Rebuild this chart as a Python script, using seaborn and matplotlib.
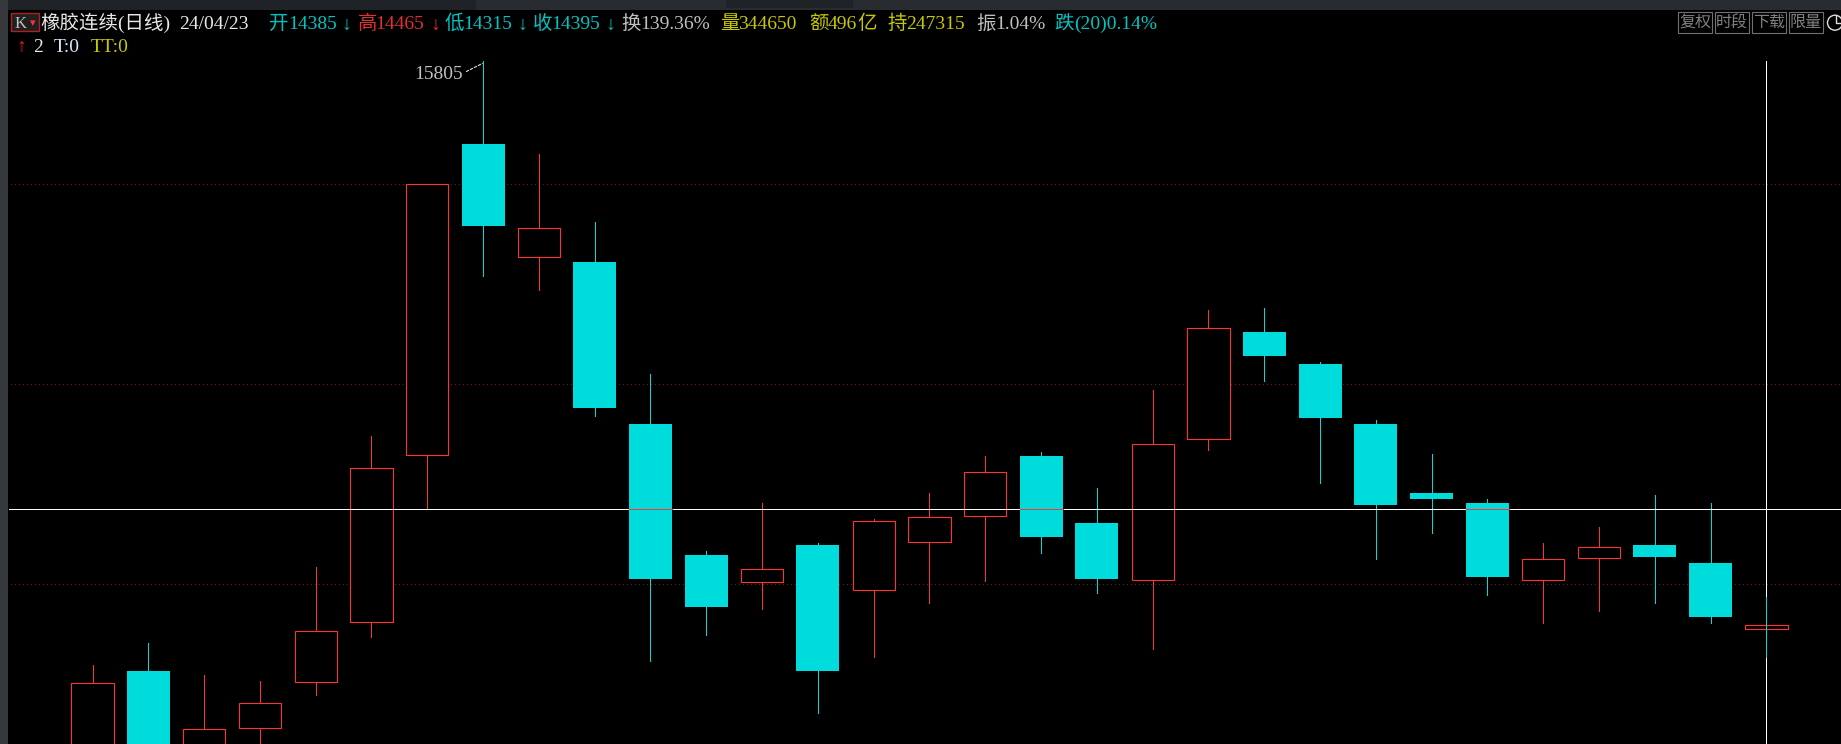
import numpy as np
import pandas as pd
import matplotlib
matplotlib.use('Agg')
import matplotlib.pyplot as plt
import matplotlib.patches as mpatches
import matplotlib.transforms as mtransforms
import seaborn as sns

# daily candles (first three run below the window)
opens = [14050, 14280, 14060, 14137, 14252, 14402, 14819, 15597, 15314, 15302, 14897,
         14570, 14502, 14595, 14482, 14602, 14667, 14817, 14650, 14507, 14859, 15127,
         15047, 14897, 14725, 14700, 14507, 14562, 14595, 14550, 14385]
closes = [14249, 14060, 14134, 14199, 14379, 14787, 15497, 15393, 15387, 14938, 14510,
          14441, 14534, 14281, 14654, 14664, 14777, 14616, 14511, 14847, 15137, 15068,
          14913, 14696, 14711, 14516, 14559, 14589, 14566, 14416, 14395]
highs = [14295, 14350, 14270, 14255, 14540, 14867, 15497, 15805, 15572, 15402, 15022,
         14580, 14700, 14600, 14660, 14725, 14817, 14827, 14737, 14982, 15182, 15187,
         15052, 14907, 14822, 14710, 14600, 14640, 14720, 14700, 14465]
lows = [14030, 14040, 14040, 14090, 14221, 14366, 14684, 15268, 15233, 14918, 14306,
        14371, 14436, 14176, 14316, 14451, 14506, 14576, 14476, 14336, 14833, 15004,
        14749, 14561, 14626, 14471, 14401, 14431, 14451, 14401, 14315]
grid_prices = [14497, 14997, 15497]
cross_price = 14685
peak_label = '15805'

RED = '#ff3232'
CYAN = '#00dcdc'
TEAL = '#00c4c4'
YELLOW = '#c8c800'
GRAY = '#c0c0c0'
W, H = 1841, 744

sns.set_theme(style='dark', rc={'figure.facecolor': 'black', 'axes.facecolor': 'black'})
plt.rcParams['font.family'] = ['Liberation Serif', 'Noto Sans CJK SC', 'DejaVu Sans']

df = pd.DataFrame({'i': np.arange(len(opens)), 'open': opens, 'close': closes,
                   'high': highs, 'low': lows})
df['up'] = df['close'] >= df['open']
df['bottom'] = df[['open', 'close']].min(axis=1)
df['height'] = (df['close'] - df['open']).abs()

fig = plt.figure(figsize=(W / 100, H / 100), dpi=100)
ax = fig.add_axes([0, 0, 1, 1])

# dotted price levels
ax.hlines(grid_prices, -2, 40, color='#7a1010', lw=0.72, linestyles=[(0, (1, 3))],
          antialiased=False, zorder=1)

# wicks, the last one goes over the crosshair
body = df.iloc[:-1]
ax.vlines(body.loc[body['up'], 'i'], body.loc[body['up'], 'low'], body.loc[body['up'], 'high'],
          color=RED, lw=0.72, antialiased=False, zorder=2)
ax.vlines(body.loc[~body['up'], 'i'], body.loc[~body['up'], 'low'], body.loc[~body['up'], 'high'],
          color=CYAN, lw=0.72, antialiased=False, zorder=2)

up = df[df['up']]
down = df[~df['up']]
sns.barplot(data=up, x='i', y='height', bottom=up['bottom'].values, native_scale=True, ax=ax,
            width=0.755, color='black', edgecolor=RED, linewidth=0.8, saturation=1,
            errorbar=None, zorder=3)
sns.barplot(data=down, x='i', y='height', bottom=down['bottom'].values, native_scale=True, ax=ax,
            width=0.77, color=CYAN, linewidth=0, saturation=1, errorbar=None, zorder=3)

# crosshair
x0 = (0 - 92.5) / 55.8
x1 = (W - 92.5) / 55.8
y0 = 14465 + 2.5 * (597 - H)
y1 = 14465 + 2.5 * 597
last = df.iloc[-1]
ax.hlines(cross_price, (9 - 92.5) / 55.8, x1, color='white', lw=0.72, antialiased=False, zorder=4)
ax.vlines(last['i'], y0, 15805, color='white', lw=0.72, antialiased=False, zorder=4)
ax.vlines(last['i'], last['low'], last['high'], color=CYAN, lw=0.72, antialiased=False, zorder=5)
for _, r in down.iterrows():
    if r['close'] < cross_price < r['open']:
        ax.hlines(cross_price, r['i'] - 0.385, r['i'] + 0.385, color=RED, lw=0.72,
                  antialiased=False, zorder=5)

ax.set_xlim(x0, x1)
ax.set_ylim(y0, y1)
ax.set_xlabel('')
ax.set_ylabel('')
ax.set_xticks([])
ax.set_yticks([])
for s in ax.spines.values():
    s.set_visible(False)

# window chrome in pixel coordinates
px = mtransforms.Affine2D().scale(1 / W, -1 / H).translate(0, 1) + fig.transFigure


def box(x, y, w, h, **kw):
    fig.add_artist(mpatches.Rectangle((x, y), w, h, transform=px, **kw))


def label(x, y, s, color, size=14, **kw):
    fig.text(x, y, s, transform=px, color=color, fontsize=size, va='baseline', **kw)


box(0, 0, W, 10, facecolor='#282c30', edgecolor='none')
box(0, 0, 476, 10, facecolor='#1f2327', edgecolor='none')
box(726, 0, 127, 8, facecolor='#1f2327', edgecolor='none')
box(0, 0, 8, H, facecolor='#35383a', edgecolor='none')

box(11, 13, 28, 18, facecolor='#202020', edgecolor='#b02020', lw=1)
label(15, 28, 'K', GRAY, size=12)
label(30, 26, '▾', RED, size=8)

base = 29.3
header = [
    (40.7, '橡胶连续(日线)', '#e8e8e8'), (178.7, '24/04/23', '#e8e8e8'),
    (268.9, '开', TEAL), (287.9, '14385', TEAL), (341, '↓', TEAL),
    (357.8, '高', '#e03030'), (375.6, '14465', '#e03030'), (430, '↓', '#e03030'),
    (444.8, '低', TEAL), (463.4, '14315', TEAL), (517, '↓', TEAL),
    (533, '收', TEAL), (551.6, '14395', TEAL), (605, '↓', TEAL),
    (621, '换', GRAY), (640.7, '139.36%', GRAY),
    (719.8, '量', YELLOW), (738.4, '344650', YELLOW),
    (809.6, '额', YELLOW), (828, '496', YELLOW), (857, '亿', YELLOW),
    (887.5, '持', YELLOW), (906.5, '247315', YELLOW),
    (976.4, '振', GRAY), (995.4, '1.04%', GRAY),
    (1054.7, '跌', TEAL), (1074.5, '(20)0.14%', TEAL),
]
for x, s, c in header:
    label(x, base, s, c)

label(16, 51.7, '↑', '#ff1010', fontweight='bold')
label(33.6, 51.7, '2', '#e8e8e8')
label(53.4, 51.7, 'T:0', '#d8e8ff')
label(91, 51.7, 'TT:0', YELLOW)

# peak label and its leader
label(414, 79.3, peak_label, GRAY)
fig.add_artist(plt.Line2D([466, 482.7], [71.7, 63.3], transform=px, color='#e0e0e0', lw=0.8,
                          linestyle=(0, (3, 1))))

# buttons top right
for x, s in zip([1678.3, 1715.3, 1752.3, 1789.3], ['复权', '时段', '下载', '限量']):
    box(x, 12.3, 33.4, 20.4, facecolor='none', edgecolor='#707070', lw=0.8)
    fig.text(x + 16.7, 22.5, s, transform=px, color='#808080', fontsize=11.5,
             ha='center', va='center')
fig.add_artist(mpatches.Circle((1835, 22.7), 7.5, transform=px, facecolor='none',
                               edgecolor='#e0e0e0', lw=1))
fig.add_artist(plt.Line2D([1836, 1836, 1841], [16, 23, 23], transform=px, color='#e0e0e0', lw=1))

fig.savefig('out.png', dpi=100, facecolor='black')
